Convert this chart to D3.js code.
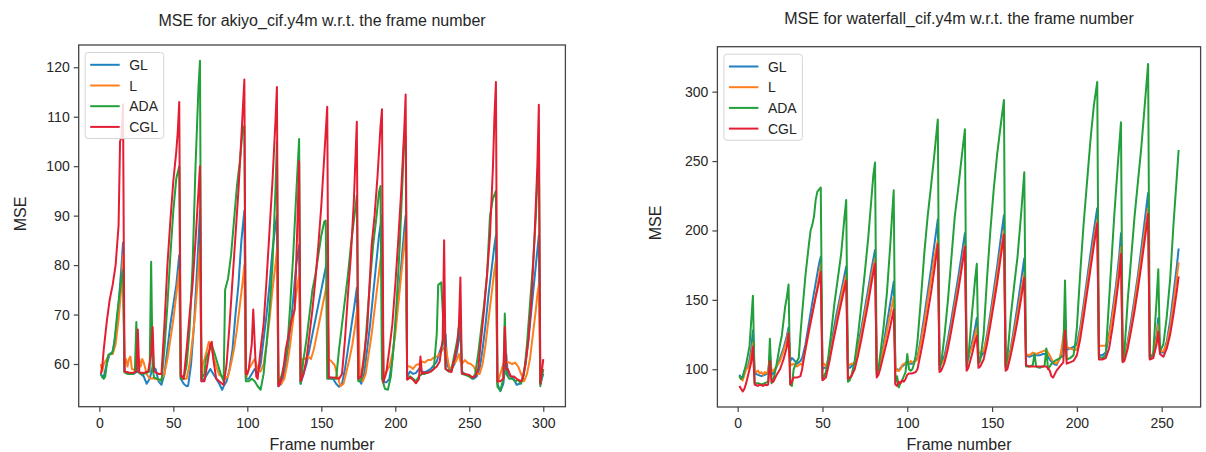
<!DOCTYPE html>
<html><head><meta charset="utf-8">
<script src="https://cdn.jsdelivr.net/npm/d3@7"></script>
<style>
body{margin:0;background:#fff}
svg{display:block}
text{font-family:"Liberation Sans",Arial,sans-serif;fill:#262626}
</style>
</head><body>
<svg id="c" width="1206" height="452"></svg>
<script>
// ---------- data: akiyo_cif.y4m ----------
const akiyoGL = [[1,58],[2,57.5],[3,57.5],[5,60],[7,62],[9,62.5],[11,66],[13,72],[15,80],[16,84.5],[17,58.5],[20,58],[23,58],[26,58.5],[28,58],[30,57.5],[32,56],[34,57],[36,59.3],[38,59],[40,56.5],[42,55.8],[44,58],[46,63],[48,68],[50,72],[52,76],[54,82],[55,57],[57,56],[59,55.5],[60,55.6],[62,60],[64,68],[66,79],[68,91],[69,56.5],[71,57],[73,58],[75,59],[77,58],[79,57],[81,56],[83,54.8],[84,55.5],[86,56.5],[88,59],[90,63],[92,70],[94,76],[96,85],[98,91],[99,57],[101,57],[103,58],[105,59],[107,58],[109,60],[111,65],[113,70],[115,76],[117,83],[119,88],[120,90],[121,55.5],[123,56],[125,58],[127,62],[129,67],[131,73],[133,80],[135,84],[136,56],[138,58],[140,60],[142,63],[144,66],[146,69],[148,72],[150,75],[152,78],[154,81],[155,57],[158,57],[160,56],[162,55.4],[164,56],[166,59],[168,63],[170,67],[172,71],[174,75.4],[175,57],[177,56],[179,58],[181,63],[183,68],[185,74],[187,80],[189,86],[191,90],[192,56.3],[194,56.3],[196,57],[198,61],[200,67],[202,73],[204,80],[206,87],[207,90],[208,57.5],[210,58.5],[212,58],[214,58.2],[216,59],[218,58.5],[220,58.3],[224,59],[228,60.5],[230,62.5],[232,64],[234,66],[235,60],[237,58.5],[240,60],[242,63],[244,67],[245,58.5],[247,58],[250,57.5],[253,57],[255,57.5],[257,59],[259,63],[261,68],[263,74],[265,79],[267,84],[268,86],[269,56],[271,54.5],[273,56],[275,62],[276,58],[278,57.5],[280,57],[282,55.8],[284,56],[286,57],[288,60],[290,65],[292,71],[294,77],[296,83],[297,86],[298,56],[300,58]];
const akiyoL = [[1,60],[2,58.5],[3,60],[5,61],[7,62],[9,62],[11,64],[13,69],[15,76],[16,82],[17,60],[18,61],[19,59.5],[20,61],[21,61.5],[22,59],[24,58.8],[26,60.5],[27,61],[28,59.5],[29,61],[30,60.3],[32,58],[34,57],[36,57.1],[38,57],[40,56.8],[42,57],[44,58],[46,61],[48,65],[50,69],[52,74],[54,79],[55,58],[57,57],[59,57],[61,60],[63,65],[65,71],[67,79],[68,84],[69,57],[70,59.8],[72,62],[74,64.5],[75,64],[77,61.5],[79,59.5],[81,57.8],[83,57.5],[85,57],[87,57.5],[89,60],[91,63],[93,67],[95,72],[97,77],[98,80],[99,57],[101,59],[103,60],[105,61],[107,59],[109,58.5],[111,60],[113,64],[115,69],[117,75],[119,80],[120,83],[121,56],[123,56],[125,57],[127,60],[129,64],[131,69],[133,74],[135,78],[136,58],[137,61],[139,61],[141,61.5],[143,61],[145,63],[147,66],[149,69],[151,72],[153,75],[154,77],[155,61],[157,60.5],[159,59.8],[161,57.4],[163,55.5],[165,56],[167,58.5],[169,61],[171,64],[173,68],[175,73],[176,57],[178,56.5],[180,58],[182,62],[184,66],[186,71],[188,76],[190,81],[191,84],[192,58],[194,58.5],[196,59.5],[198,62],[200,66],[202,72],[204,78],[206,84],[207,87],[208,59.5],[210,59.5],[212,59],[214,59.8],[216,60],[218,60.5],[220,60.3],[222,60.8],[224,60.8],[226,61.3],[228,61.5],[230,62],[232,63],[234,63.5],[236,60],[237,58.8],[239,60],[241,60.5],[243,62],[244,60.5],[245,60],[247,60.8],[249,60.2],[251,60],[253,59.5],[255,58],[257,58],[259,60],[261,64],[263,69],[265,74],[267,79],[268,81],[269,56],[271,58],[273,60],[275,60.5],[277,60.3],[279,60],[281,60.3],[283,59.5],[285,58],[287,56.5],[289,58],[291,61],[293,66],[295,71],[296,74],[297,76],[298,57],[300,59]];
const akiyoADA = [[1,58],[2,57.3],[3,57],[4,57.5],[5,60],[6,61.8],[7,62],[8,62],[9,62.5],[10,64],[12,70],[14,75],[15,77.5],[16,79],[17,58.3],[19,58],[21,58],[23,58],[24,58.5],[25,68.5],[26,58.5],[28,58],[30,58],[32,58.2],[34,58.5],[35,80.7],[36,59],[37,57.3],[39,57],[41,56.8],[42,56.5],[44,63],[46,72],[48,82],[50,91],[52,97.5],[54,100],[55,57],[57,57],[59,59.8],[61,67],[63,80],[65,100],[66,108],[67,116],[68,121.3],[69,57],[71,58],[72,61],[74,62.5],[76,63.8],[78,62],[80,60],[82,58],[84,56.5],[85,75],[87,77.3],[89,82],[91,89],[93,96],[95,101],[97,108],[98,108],[99,56.5],[101,56.5],[103,57],[105,56.5],[107,55.5],[109,54.8],[111,58],[113,64],[115,71],[117,80],[119,95],[120,105],[121,56],[123,57.5],[125,60],[127,63],[129,72],[131,82],[133,94],[135,105.5],[136,56],[138,61],[140,65],[142,70],[144,75],[146,78],[148,82],[150,86],[152,88.8],[153,89],[154,57],[156,57.3],[158,57],[160,57],[162,63],[164,68],[166,73],[168,78],[170,84],[172,89],[174,94],[175,56.5],[177,56.8],[179,61],[181,69],[183,77],[185,84],[187,89],[189,94.8],[190,96],[191,57],[193,55],[195,54.8],[197,57.5],[199,64],[201,73],[203,84],[205,98],[206,106],[207,106],[208,57],[210,57.5],[212,57],[214,56.5],[216,57.5],[218,58],[220,58],[222,58.3],[224,58.5],[226,59],[228,66],[229,76],[231,76.5],[232,71],[233,65],[234,59],[236,58.5],[238,59],[240,62],[242,65],[244,70],[245,58],[247,57.8],[250,57.5],[252,57],[254,58],[256,62],[258,67],[260,72],[262,78],[264,90],[266,93.5],[268,95],[269,55.4],[271,54.6],[273,57],[274,70.2],[275,58],[277,57],[279,57],[281,56.5],[283,56.8],[285,56],[287,58],[289,64],[291,72],[293,80],[295,90],[296,97],[297,104],[298,55.5],[300,59]];
const akiyoCGL = [[1,58],[2,59.5],[3,63],[5,68.5],[7,73],[9,76],[11,80],[13,88],[14,105],[15,106],[16,112.5],[17,58.5],[20,58.3],[23,58.2],[25,58.5],[26,67],[27,58.3],[30,58.2],[33,58.5],[35,62],[36,67.5],[37,58.5],[40,58],[42,58],[44,68],[46,80],[48,89],[50,97],[52,103],[53,107],[54,113],[55,57.5],[56,57.5],[57,57],[59,63],[61,70],[63,76],[65,85],[67,95],[68,100],[69,56.5],[71,56.5],[73,60],[75,64],[76,64.5],[77,61],[79,57],[81,56.5],[83,56],[84,55.8],[86,60],[88,68],[90,77],[92,86],[94,95],[96,106],[98,117.5],[99,58],[100,58],[101,59],[103,64],[104,71],[106,57.5],[107,57],[109,63],[111,68],[113,77],[115,87],[117,97],[119,109],[120,116],[121,55.5],[122,56],[124,58],[126,63],[128,66],[130,69],[132,71],[133,80],[134,90],[135,101],[136,56.5],[138,58],[140,61],[142,66],[144,71],[146,77],[148,84],[150,92],[152,102],[153,107],[154,112],[155,57.2],[157,57.3],[160,57.2],[162,57],[164,58],[166,65],[168,74],[170,82],[172,93],[174,109],[175,57],[177,57.5],[179,62],[181,67],[184,84],[186,90],[188,98],[190,108],[191,111.5],[192,56.3],[194,58.4],[196,63],[198,68],[200,76],[202,85],[204,95],[206,107],[207,114.5],[208,56.8],[210,57.3],[212,56.8],[214,56.1],[216,57],[217,61.5],[218,58],[220,58.3],[222,58.2],[224,58.5],[226,59],[228,59.5],[230,60.5],[232,65],[233,85],[234,59],[236,58.6],[238,58.4],[240,61],[242,64],[243,68],[244,77.5],[245,58.1],[247,58],[250,57.8],[252,57.3],[254,57.5],[256,59],[258,65],[260,71],[262,78],[264,86],[266,100],[267,110],[268,117],[269,56.5],[271,56.5],[273,57],[274,67.5],[275,59],[276,59],[278,57.5],[280,57.5],[282,57],[285,56.5],[286,57],[288,60],[290,65],[292,73],[294,85],[296,100],[297,112.4],[298,56],[300,61]];

// ---------- data: waterfall_cif.y4m ----------
const waterfallGL = [[1,96],[2,94],[3,95],[4,99],[5,101],[6,102],[7,107],[8,115],[9,128],[10,97],[12,96],[14,95],[16,96],[18,97],[19,111],[20,96],[21,97],[23,102],[25,108],[27,115],[29,124],[30,130],[31,106],[32,108],[33,107],[35,104],[37,106],[38,108],[40,118],[42,133],[44,148],[46,162],[48,176],[49,181],[50,100],[51,101],[52,101],[54,110],[56,124],[58,138],[60,150],[62,162],[64,174],[65,101],[66,101],[67,102],[69,105],[71,117],[73,130],[75,144],[77,158],[79,173],[81,186],[82,98],[83,100],[84,104],[86,118],[88,133],[90,148],[92,163],[93,101],[94,100],[95,99],[96,101],[98,103],[100,106],[101,104],[103,104],[105,107],[106,108],[108,122],[110,138],[112,155],[114,172],[116,190],[118,208],[119,103],[120,104],[122,110],[124,122],[126,136],[128,151],[130,166],[132,182],[134,198],[135,106],[136,108],[138,118],[140,130],[141,137],[142,106],[143,108],[145,112],[147,125],[149,140],[151,157],[153,174],[155,193],[157,211],[158,102],[159,103],[161,115],[163,130],[165,146],[167,163],[169,180],[170,110],[172,109],[174,110],[176,110],[178,110],[180,111],[182,111],[184,107],[186,104],[188,103],[190,108],[192,118],[193,138],[194,114],[196,115],[198,116],[200,118],[202,130],[204,147],[206,165],[208,183],[210,200],[212,216],[213,110],[215,110],[217,112],[219,125],[221,142],[223,160],[225,182],[226,198],[227,106],[228,108],[230,120],[232,135],[234,151],[236,168],[238,187],[240,207],[242,227],[243,108],[245,110],[247,125],[248,137],[249,112],[251,112],[253,120],[255,135],[257,155],[259,175],[260,187]];
const waterfallL = [[1,95],[2,93],[3,92],[4,96],[5,100],[6,101],[7,104],[8,110],[9,119],[10,98],[11,98],[12,99],[13,97],[14,98],[15,96],[16,98],[17,97],[18,99],[19,108],[20,99],[21,99],[23,102],[25,106],[27,113],[29,121],[30,127],[31,104],[32,103],[33,104],[35,102],[37,104],[38,103],[40,114],[42,127],[44,140],[46,153],[48,167],[49,176],[50,103],[51,104],[52,102],[54,108],[56,120],[58,133],[60,146],[62,158],[64,168],[65,103],[66,103],[67,104],[69,104],[71,114],[73,126],[75,140],[77,153],[79,168],[81,180],[82,99],[83,100],[84,102],[86,115],[88,127],[90,140],[92,152],[93,102],[94,99],[95,99],[96,100],[97,103],[98,104],[99,104],[100,105],[101,104],[102,106],[103,105],[104,105],[105,106],[106,107],[108,119],[110,133],[112,149],[114,165],[116,180],[118,193],[119,104],[120,104],[122,107],[124,118],[126,131],[128,146],[130,160],[132,175],[134,190],[135,109],[136,110],[138,115],[140,125],[141,130],[142,111],[143,112],[145,113],[147,122],[149,136],[151,152],[153,168],[155,185],[157,200],[158,103],[159,104],[161,113],[163,126],[165,140],[167,155],[169,169],[170,111],[172,110],[174,112],[176,111],[178,112],[180,113],[182,114],[184,110],[186,105],[188,104],[190,108],[191,115],[193,132],[194,116],[196,115],[198,114],[200,114],[202,127],[204,143],[206,160],[208,177],[210,193],[212,208],[213,117],[215,117],[217,117],[219,123],[221,138],[223,155],[225,175],[226,188],[227,107],[228,108],[230,118],[232,131],[234,147],[236,164],[238,181],[240,199],[242,216],[243,109],[245,111],[247,122],[248,132],[249,113],[251,113],[253,118],[255,130],[257,148],[259,167],[260,177]];
const waterfallADA = [[1,95],[2,93],[3,94],[4,99],[5,104],[6,110],[7,117],[8,135],[9,153],[10,90],[12,90],[14,89],[16,90],[18,91],[19,122],[20,90],[21,92],[23,104],[25,118],[26,124],[28,145],[29,152],[30,161],[31,89],[32,88],[33,100],[35,106],[36,108],[37,125],[38,140],[40,168],[42,190],[43,200],[44,204],[45,210],[46,222],[47,228],[49,231],[50,93],[51,95],[52,98],[53,104],[55,125],[57,147],[59,165],[61,183],[63,210],[64,222],[65,91],[66,92],[67,95],[69,106],[71,125],[73,147],[75,170],[77,195],[79,225],[80,240],[81,249],[82,96],[83,100],[84,110],[86,130],[88,155],[90,190],[91,210],[92,229],[93,90],[94,95],[95,87],[96,90],[97,92],[98,95],[99,98],[100,111],[101,100],[102,99],[103,100],[104,104],[105,110],[106,120],[108,150],[110,183],[112,210],[114,232],[116,255],[118,280],[119,100],[120,104],[122,125],[124,150],[126,180],[128,210],[130,230],[132,252],[134,273],[135,102],[136,108],[138,138],[140,165],[141,176],[142,104],[143,106],[145,125],[147,165],[149,200],[151,230],[153,255],[155,275],[157,294],[158,101],[159,108],[161,138],[163,160],[165,181],[167,210],[169,242],[170,102],[172,102],[174,103],[175,111],[176,102],[178,101],[180,102],[181,103],[182,115],[183,100],[185,104],[187,106],[190,108],[192,110],[193,164],[194,107],[196,108],[198,110],[199,118],[200,130],[202,170],[204,205],[206,235],[208,265],[210,290],[212,307],[213,109],[215,108],[217,110],[219,150],[221,190],[222,210],[224,245],[226,278],[227,106],[228,112],[230,150],[232,180],[234,210],[236,235],[238,260],[240,290],[242,320],[243,108],[245,111],[247,150],[248,172],[249,113],[251,118],[253,138],[255,165],[257,205],[259,240],[260,258]];
const waterfallCGL = [[1,88],[2,86],[3,84],[4,86],[5,90],[6,95],[7,100],[8,105],[9,116],[10,89],[11,88.5],[12,88],[13,89],[14,88.5],[15,88],[16,89],[17,88.5],[18,89],[19,106],[20,91],[21,91],[23,96],[25,100],[27,107],[29,116],[30,126],[31,89],[32,91],[33,94],[35,94],[37,95],[38,100],[40,115],[42,128],[44,140],[46,152],[48,163],[49,170],[50,92],[51,93],[52,94],[54,105],[56,118],[58,130],[60,142],[62,153],[64,164],[65,93],[66,94],[67,95],[69,100],[71,110],[73,122],[75,135],[77,148],[79,163],[81,176],[82,94],[83,96],[84,100],[86,110],[88,120],[90,131],[92,143],[93,89],[94,88],[95,91],[96,90],[97,92],[98,91],[99,93],[100,96],[101,97],[103,97],[105,98],[106,100],[108,112],[110,125],[112,140],[114,155],[116,172],[118,190],[119,98],[120,99],[122,105],[124,115],[126,128],[128,142],[130,156],[132,172],[134,188],[135,99],[136,101],[138,110],[140,120],[141,124],[142,101],[143,102],[145,107],[147,118],[149,132],[151,147],[153,162],[155,180],[157,197],[158,99],[159,100],[161,110],[163,122],[165,135],[167,150],[169,166],[170,103],[172,102],[174,102],[176,102],[178,102],[180,102],[182,102],[184,99],[185,95],[186,94],[188,99],[190,102],[192,105],[193,128],[194,104],[196,105],[198,106],[200,110],[202,122],[204,138],[206,155],[208,172],[210,189],[212,205],[213,107],[215,107],[217,108],[219,115],[221,130],[223,148],[225,168],[226,183],[227,105],[228,106],[230,115],[232,128],[234,142],[236,158],[238,175],[240,193],[242,212],[243,107],[245,108],[247,118],[248,127],[249,111],[251,109],[253,115],[255,125],[257,140],[259,157],[260,167]];

const seriesNames = ["GL", "L", "ADA", "CGL"];
const seriesColors = ["#2180c0", "#ff7f1e", "#22a03a", "#e41e32"];
const akiyoTicksX = [0, 50, 100, 150, 200, 250, 300];
const akiyoTicksY = [60, 70, 80, 90, 100, 110, 120];
const waterfallTicksX = [0, 50, 100, 150, 200, 250];
const waterfallTicksY = [100, 150, 200, 250, 300];
const akiyoTitle = "MSE for akiyo_cif.y4m w.r.t. the frame number";
const waterfallTitle = "MSE for waterfall_cif.y4m w.r.t. the frame number";
const xLabel = "Frame number";
const yLabel = "MSE";

const svg = d3.select("#c");

function drawChart(cfg) {
  const {box, xDomain, yDomain, series, ticksX, ticksY, title} = cfg;
  const x = d3.scaleLinear().domain(xDomain).range([box.left, box.right]);
  const y = d3.scaleLinear().domain(yDomain).range([box.bottom, box.top]);
  const g = svg.append("g");

  const line = d3.line().x(d => x(d[0])).y(d => y(d[1]));
  series.forEach((s, i) => {
    g.append("path").datum(s)
      .attr("d", line)
      .attr("fill", "none")
      .attr("stroke", seriesColors[i])
      .attr("stroke-width", 2)
      .attr("stroke-linejoin", "round");
  });

  // frame
  g.append("rect")
    .attr("x", box.left).attr("y", box.top)
    .attr("width", box.right - box.left).attr("height", box.bottom - box.top)
    .attr("fill", "none").attr("stroke", "#444").attr("stroke-width", 1.3);

  const ax = g.append("g").attr("transform", `translate(0,${box.bottom})`)
    .call(d3.axisBottom(x).tickValues(ticksX).tickSize(5).tickPadding(6.5));
  const ay = g.append("g").attr("transform", `translate(${box.left},0)`)
    .call(d3.axisLeft(y).tickValues(ticksY).tickSize(5).tickPadding(4));
  [ax, ay].forEach(a => {
    a.select(".domain").remove();
    a.selectAll(".tick line").attr("stroke", "#444").attr("stroke-width", 1.2);
    a.selectAll(".tick text").style("font-size", "14px").style("font-family", '"Liberation Sans",Arial,sans-serif').attr("fill", "#262626");
  });

  const cx = (box.left + box.right) / 2;
  g.append("text").attr("x", cx).attr("y", cfg.titleY)
    .attr("text-anchor", "middle").style("font-size", "16px").text(title);
  g.append("text").attr("x", cx).attr("y", 450)
    .attr("text-anchor", "middle").style("font-size", "16px").text(xLabel);
  g.append("text")
    .attr("transform", `translate(${cfg.ylabelX},${cfg.ylabelY}) rotate(-90)`)
    .attr("text-anchor", "middle").attr("dy", "0.35em").style("font-size", "16px").text(yLabel);

  // legend
  const lx = box.left + 6.5, ly = box.top + 7.5;
  const lg = g.append("g");
  lg.append("rect").attr("x", lx).attr("y", ly).attr("width", 78.5).attr("height", 86)
    .attr("rx", 3).attr("fill", "#fff").attr("fill-opacity", 0.85)
    .attr("stroke", "#d5d5d5").attr("stroke-width", 1);
  seriesNames.forEach((n, i) => {
    const yy = ly + 12.3 + i * 20.7;
    lg.append("line").attr("x1", lx + 5).attr("x2", lx + 34.5).attr("y1", yy).attr("y2", yy)
      .attr("stroke", seriesColors[i]).attr("stroke-width", 2);
    lg.append("text").attr("x", lx + 44).attr("y", yy).attr("dy", "0.36em")
      .style("font-size", "14px").text(n);
  });
}

drawChart({
  box: {left: 78.7, right: 565.4, top: 45, bottom: 406.7},
  xDomain: [-13.95, 314.95], yDomain: [51.37, 124.5],
  series: [akiyoGL, akiyoL, akiyoADA, akiyoCGL],
  ticksX: akiyoTicksX, ticksY: akiyoTicksY, title: akiyoTitle,
  titleY: 26, ylabelX: 20, ylabelY: 214
});
drawChart({
  box: {left: 717.4, right: 1200.6, top: 46.7, bottom: 407},
  xDomain: [-11.95, 272.95], yDomain: [72.8, 332.4],
  series: [waterfallGL, waterfallL, waterfallADA, waterfallCGL],
  ticksX: waterfallTicksX, ticksY: waterfallTicksY, title: waterfallTitle,
  titleY: 24, ylabelX: 655, ylabelY: 223
});
</script>
</body></html>
